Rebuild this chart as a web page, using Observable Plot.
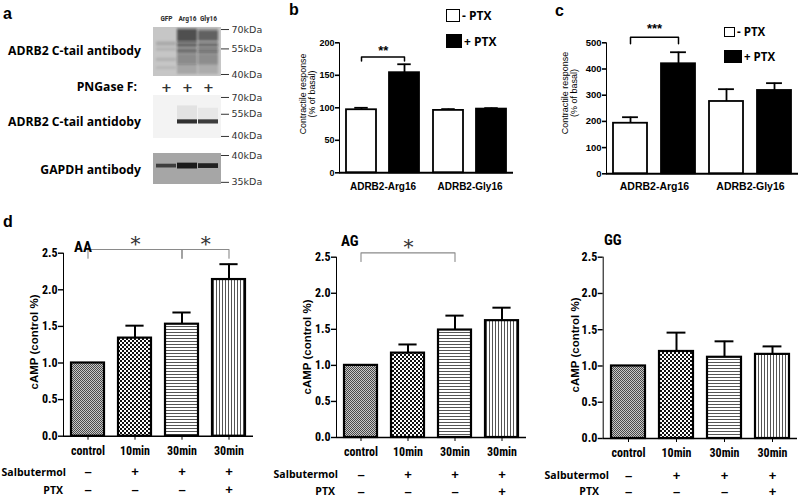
<!DOCTYPE html>
<html>
<head>
<meta charset="utf-8">
<script src="https://cdn.jsdelivr.net/npm/d3@7"></script>
<script src="https://cdn.jsdelivr.net/npm/@observablehq/plot@0.6"></script>
<style>
  body { margin: 0; background: #fff; }
  #root { position: relative; width: 800px; height: 498px; overflow: hidden; background: #fff;
          font-family: "Open Sans", "Liberation Sans", Arial, sans-serif; color: #000; }
  .abs { position: absolute; white-space: pre; line-height: 1; }
  .chart { position: absolute; overflow: visible; }
  .sw { position: absolute; box-sizing: border-box; border: 1.5px solid #000; }
</style>
</head>
<body>
<svg width="0" height="0" style="position:absolute">
  <defs>
    <filter id="blot-blur" x="-20%" y="-20%" width="140%" height="140%">
      <feGaussianBlur stdDeviation="1.1"/>
    </filter>
    <filter id="blot-blur-soft" x="-20%" y="-20%" width="140%" height="140%">
      <feGaussianBlur stdDeviation="0.7"/>
    </filter>
    <pattern id="pat-control" width="2" height="2" patternUnits="userSpaceOnUse">
      <rect width="2" height="2" fill="#c8c8c8"/>
      <rect width="1" height="1" fill="#4a4a4a"/>
      <rect x="1" y="1" width="1" height="1" fill="#4a4a4a"/>
    </pattern>
    <pattern id="pat-checker" width="4" height="4" patternUnits="userSpaceOnUse">
      <rect width="4" height="4" fill="#fff"/>
      <rect width="2" height="2" fill="#111"/>
      <rect x="2" y="2" width="2" height="2" fill="#111"/>
    </pattern>
    <pattern id="pat-hlines" width="4" height="3" patternUnits="userSpaceOnUse">
      <rect width="4" height="3" fill="#fff"/>
      <rect width="4" height="1" fill="#555"/>
    </pattern>
    <pattern id="pat-vlines" width="3" height="4" patternUnits="userSpaceOnUse">
      <rect width="3" height="4" fill="#fff"/>
      <rect width="1" height="4" fill="#555"/>
    </pattern>
  </defs>
</svg>
<div id="root"></div>
<script>
// ---------------- DATA ----------------
// Panel a: western blot
const lanes = ["GFP", "Arg16", "Gly16"];
const pngaseF = ["+", "+", "+"];
const blot1Markers = [70, 55, 40];
const blot2Markers = [70, 55, 40];
const blot3Markers = [40, 35];
const blot1Bands = [
  {lane: "GFP", hi: 60, lo: 57, a: 0.14},
  {lane: "GFP", hi: 55.5, lo: 53.5, a: 0.1},
  {lane: "GFP", hi: 49, lo: 47, a: 0.1},
  {lane: "GFP", hi: 44, lo: 42.5, a: 0.08},
  {lane: "Arg16", hi: 71, lo: 40, a: 0.16},
  {lane: "Arg16", hi: 70, lo: 60, a: 0.6},
  {lane: "Arg16", hi: 59, lo: 56, a: 0.45},
  {lane: "Arg16", hi: 55, lo: 52, a: 0.4},
  {lane: "Arg16", hi: 51.5, lo: 45, a: 0.22},
  {lane: "Gly16", hi: 71, lo: 40, a: 0.13},
  {lane: "Gly16", hi: 69, lo: 60.5, a: 0.5},
  {lane: "Gly16", hi: 59, lo: 56, a: 0.42},
  {lane: "Gly16", hi: 55, lo: 52, a: 0.38},
  {lane: "Gly16", hi: 51.5, lo: 45, a: 0.18}
];
const blot2Bands = [
  {lane: "Arg16", hi: 62, lo: 51, a: 0.07},
  {lane: "Gly16", hi: 60, lo: 51, a: 0.05},
  {lane: "Arg16", hi: 50.8, lo: 47.8, a: 0.85},
  {lane: "Gly16", hi: 50.8, lo: 47.8, a: 0.8}
];
const blot3Bands = [
  {lane: "GFP", hi: 38.3, lo: 37.6, a: 0.7},
  {lane: "Arg16", hi: 38.5, lo: 37.4, a: 0.92},
  {lane: "Gly16", hi: 38.4, lo: 37.5, a: 0.88}
];

// Panels b, c: contractile response
const groupsBC = ["ADRB2-Arg16", "ADRB2-Gly16"];
const ptxLevels = ["- PTX", "+ PTX"];
const bMean = [97, 154, 96, 98];      // Arg16 -PTX, Arg16 +PTX, Gly16 -PTX, Gly16 +PTX
const bSem = [3, 13, 2, 1.5];
const cMean = [193, 420, 276, 318];
const cSem = [23, 44, 47, 28];
const bSig = [{group: "ADRB2-Arg16", from: "- PTX", to: "+ PTX", y: 178, low: 172, label: "**"}];
const cSig = [{group: "ADRB2-Arg16", from: "- PTX", to: "+ PTX", y: 521, low: 496, label: "***"}];

// Panel d: cAMP
const dConditions = ["control", "10min", "30min", "30min+PTX"];
const dTickLabels = ["control", "10min", "30min", "30min"];
const salbutermolRow = ["–", "+", "+", "+"];
const ptxRow = ["–", "–", "–", "+"];
const aaMean = [1.0, 1.34, 1.53, 2.14];
const aaSem = [0, 0.17, 0.16, 0.21];
const agMean = [1.0, 1.17, 1.49, 1.62];
const agSem = [0, 0.12, 0.20, 0.18];
const ggMean = [1.0, 1.20, 1.12, 1.16];
const ggSem = [0, 0.26, 0.22, 0.11];
const aaSig = [
  {from: "control", to: "30min", y: 2.55, low: 2.43, label: "*"},
  {from: "30min", to: "30min+PTX", y: 2.55, low: 2.43, label: "*"}
];
const agSig = [{from: "control", to: "30min", y: 2.56, low: 2.44, label: "*"}];
const ggSig = [];

// ---------------- HELPERS ----------------
const root = document.getElementById("root");
const NARROW = '"Liberation Sans Narrow", "Arial Narrow", "Roboto Condensed", "Liberation Sans", Arial, sans-serif';
const SANS = '"Liberation Sans", Arial, sans-serif';

function text(str, x, y, {anchor = "start", size = 11, weight = 700, family = null, color = "#000", rotate = false, lh = 1, align = "center"} = {}) {
  const d = document.createElement("div");
  d.className = "abs";
  d.textContent = str;
  d.style.left = x + "px";
  d.style.top = y + "px";
  d.style.fontSize = size + "px";
  d.style.fontWeight = weight;
  d.style.color = color;
  d.style.lineHeight = lh;
  d.style.textAlign = align;
  if (family) d.style.fontFamily = family;
  const tx = anchor === "start" ? "0" : anchor === "middle" ? "-50%" : "-100%";
  d.style.transform = `translate(${tx},-50%)` + (rotate ? " rotate(-90deg)" : "");
  root.appendChild(d);
  return d;
}
function swatch(x, y, w, h, fill) {
  const d = document.createElement("div");
  d.className = "sw";
  d.style.left = x + "px"; d.style.top = y + "px";
  d.style.width = w + "px"; d.style.height = h + "px";
  d.style.background = fill;
  root.appendChild(d);
}
function put(svg, left, top) {
  svg.classList.add("chart");
  svg.style.left = left + "px";
  svg.style.top = top + "px";
  root.appendChild(svg);
  return svg;
}

// ---------------- PANEL a ----------------
function blot({bands, markers, domain, bg, left, top, width, height, mt, mb, ml, mr, laneLabels = false, plus = null, filter = "blot-blur"}) {
  const marks = [
    Plot.frame({fill: bg, stroke: bg}),
    Plot.barY(bands, {x: "lane", y1: "lo", y2: "hi", fill: "#111", fillOpacity: "a"})
  ];
  if (laneLabels) marks.push(Plot.text(lanes, {x: d => d, frameAnchor: "top", lineAnchor: "middle", dy: -9, text: d => d, fontSize: 7.5, fontWeight: "bold", fontFamily: NARROW}));
  if (plus) marks.push(Plot.text(lanes.map((l, i) => ({lane: l, s: plus[i]})), {x: "lane", frameAnchor: "top", lineAnchor: "middle", dy: -8, text: "s", fontSize: 13, fontWeight: "bold"}));
  const svg = Plot.plot({
    width, height, marginTop: mt, marginBottom: mb, marginLeft: ml, marginRight: mr,
    style: {fontFamily: '"DejaVu Sans", sans-serif', fontSize: "9.5px", color: "#333", background: "transparent", overflow: "visible"},
    x: {domain: lanes, padding: 0.06, axis: null},
    y: {type: "log", domain, axis: "right", ticks: markers, tickFormat: d => d + "kDa", tickSize: 8, tickPadding: 3, label: null},
    opacity: {type: "identity"},
    marks
  });
  // soften the bands so they look like a scanned film
  d3.select(svg).selectAll('g[aria-label="bar"]').attr("filter", `url(#${filter})`);
  return put(svg, left, top);
}

blot({bands: blot1Bands, markers: blot1Markers, domain: [39.5, 71.8], bg: "#c6c6c6", filter: "blot-blur",
      left: 150, top: 0, width: 118, height: 80, mt: 27, mb: 5, ml: 3, mr: 48, laneLabels: true});
blot({bands: blot2Bands, markers: blot2Markers, domain: [39.4, 72], bg: "#f3f3f3", filter: "blot-blur-soft",
      left: 150, top: 78, width: 118, height: 62, mt: 17, mb: 3, ml: 3, mr: 48, plus: pngaseF});
blot({bands: blot3Bands, markers: blot3Markers, domain: [34.8, 40.4], bg: "#a6a6a6", filter: "blot-blur-soft",
      left: 150, top: 145, width: 118, height: 42, mt: 8, mb: 4, ml: 3, mr: 48});

text("a", 3, 14, {size: 16, weight: 700, family: SANS});
text("ADRB2 C-tail antibody", 141, 51, {anchor: "end", size: 12.2});
text("PNGase F:", 137, 87, {anchor: "end", size: 12.2});
text("ADRB2 C-tail antidoby", 141, 122, {anchor: "end", size: 12.2});
text("GAPDH antibody", 141, 170, {anchor: "end", size: 12.2});

// ---------------- PANELS b, c ----------------
function contractile({mean, sem, sig, yMax, left, top, width, height, ml, mr, mt, mb, fontSize, fxPad, starSize, starDy}) {
  const rows = [];
  groupsBC.forEach((g, gi) => ptxLevels.forEach((p, pi) => {
    const k = gi * ptxLevels.length + pi;
    rows.push({group: g, ptx: p, mean: mean[k], sem: sem[k]});
  }));
  const facetW = (width - ml - mr) / groupsBC.length;
  const step = facetW / (ptxLevels.length - 0.3 + 0.3);
  const bw = step * 0.7;
  const errs = rows.filter(d => d.sem > 0);
  const brackets = sig.flatMap((s, k) => [
    {k, group: s.group, x: s.from, y: s.low}, {k, group: s.group, x: s.from, y: s.y},
    {k, group: s.group, x: s.to, y: s.y}, {k, group: s.group, x: s.to, y: s.low}
  ]);
  const svg = Plot.plot({
    width, height, marginLeft: ml, marginRight: mr, marginTop: mt, marginBottom: mb,
    style: {fontFamily: SANS, fontSize: fontSize + "px", fontWeight: "bold", color: "#000", background: "transparent", overflow: "visible"},
    fx: {domain: groupsBC, padding: 0, axis: "bottom", tickSize: 0, tickPadding: fxPad, label: null},
    x: {domain: ptxLevels, paddingInner: 0.3, paddingOuter: 0.15, axis: null},
    y: {domain: [0, yMax], ticks: 5, tickSize: 4, tickPadding: 1, line: true, label: null},
    color: {domain: ptxLevels, range: ["white", "black"]},
    marks: [
      Plot.barY(rows, {fx: "group", x: "ptx", y: "mean", fill: "ptx", stroke: "black", strokeWidth: 1.8}),
      Plot.ruleX(errs, {fx: "group", x: "ptx", y1: "mean", y2: d => d.mean + d.sem, strokeWidth: 1.8}),
      Plot.tickY(errs, {fx: "group", x: "ptx", y: d => d.mean + d.sem, strokeWidth: 1.8, insetLeft: bw * 0.27, insetRight: bw * 0.27}),
      Plot.line(brackets, {fx: "group", x: "x", y: "y", z: "k", strokeWidth: 1.5}),
      Plot.text(sig, {fx: "group", x: "from", y: "y", text: "label", dx: step / 2, dy: starDy, fontSize: starSize, fontWeight: "bold"}),
      Plot.ruleY([0], {strokeWidth: 2})
    ]
  });
  d3.select(svg).selectAll('[aria-label^="y-axis"]').attr("stroke-width", 1.6);
  d3.select(svg).selectAll('[aria-label^="fx-axis"]').attr("font-size", fontSize + 1);
  return put(svg, left, top);
}

contractile({mean: bMean, sem: bSem, sig: bSig, yMax: 200, left: 270, top: 0, width: 250, height: 200,
             ml: 68, mr: 7, mt: 42.3, mb: 27.7, fontSize: 9, fxPad: 10, starSize: 13, starDy: -6});
contractile({mean: cMean, sem: cSem, sig: cSig, yMax: 500, left: 530, top: 0, width: 270, height: 200,
             ml: 76, mr: 2, mt: 42.3, mb: 26.7, fontSize: 9.5, fxPad: 9, starSize: 13, starDy: -8});

text("b", 289, 10, {size: 16, weight: 700, family: SANS});
text("c", 555, 11, {size: 16, weight: 700, family: SANS});
text("Contractile response\n(% of basal)", 308, 94, {anchor: "middle", rotate: true, size: 8.8, weight: 400, family: SANS, lh: 0.98});
text("Contractile response\n(% of basal)", 570, 93, {anchor: "middle", rotate: true, size: 9, weight: 400, family: SANS, lh: 0.98});

// legends b
swatch(446, 9, 14, 13, "white");
text("- PTX", 462, 16, {size: 12});
swatch(446, 34, 16, 14, "black");
text("+ PTX", 464, 42, {size: 12});
// legends c
swatch(724, 27, 11, 10, "white");
text("- PTX", 737, 32, {size: 11.5});
swatch(724, 50, 18, 13, "black");
text("+ PTX", 744, 57, {size: 11.5});

// ---------------- PANEL d ----------------
const tickLabelMap = new Map(dConditions.map((c, i) => [c, dTickLabels[i]]));
const patternFill = {"control": "url(#pat-control)", "10min": "url(#pat-checker)", "30min": "url(#pat-hlines)", "30min+PTX": "url(#pat-vlines)"};

function camp({mean, sem, sig, left, width, ml, mr, mt, mb, rowDy}) {
  const height = 298;
  const rows = dConditions.map((c, i) => ({cond: c, mean: mean[i], sem: sem[i], sal: salbutermolRow[i], ptx: ptxRow[i]}));
  const n = dConditions.length;
  const pi = 0.29, po = 0.15;
  const step = (width - ml - mr) / (n - pi + 2 * po);
  const bw = step * (1 - pi);
  const idx = c => dConditions.indexOf(c);
  const errs = rows.filter(d => d.sem > 0);
  const brackets = sig.flatMap((s, k) => [
    {k, x: s.from, y: s.low}, {k, x: s.from, y: s.y}, {k, x: s.to, y: s.y}, {k, x: s.to, y: s.low}
  ]);
  const svg = Plot.plot({
    width, height, marginLeft: ml, marginRight: mr, marginTop: mt, marginBottom: mb,
    style: {fontFamily: NARROW, fontSize: "12px", fontWeight: "bold", color: "#000", background: "transparent", overflow: "visible"},
    x: {domain: dConditions, paddingInner: pi, paddingOuter: po, tickFormat: c => tickLabelMap.get(c), tickSize: 4, tickPadding: 6, label: null},
    y: {domain: [0, 2.5], ticks: 5, tickFormat: ".1f", tickSize: 5, tickPadding: 1, line: true, label: null},
    marks: [
      ...dConditions.map(c => Plot.barY(rows.filter(d => d.cond === c), {x: "cond", y: "mean", fill: patternFill[c], stroke: "black", strokeWidth: 2.2})),
      Plot.ruleX(errs, {x: "cond", y1: "mean", y2: d => d.mean + d.sem, strokeWidth: 2}),
      Plot.tickY(errs, {x: "cond", y: d => d.mean + d.sem, strokeWidth: 2, insetLeft: bw * 0.22, insetRight: bw * 0.22}),
      Plot.line(brackets, {x: "x", y: "y", z: "k", stroke: "#8a8a8a", strokeWidth: 1.1}),
      ...sig.map(s => Plot.text([s], {x: "from", y: "y", text: "label", dx: (idx(s.to) - idx(s.from)) * step / 2, dy: -5,
                                     fontSize: 20, fontWeight: "normal", fontFamily: '"DejaVu Serif", serif', fill: "#333"})),
      Plot.ruleY([0], {strokeWidth: 1.6}),
      Plot.text(rows, {x: "cond", text: "sal", frameAnchor: "bottom", lineAnchor: "middle", dy: rowDy[0], fontSize: 13, fontFamily: SANS}),
      Plot.text(rows, {x: "cond", text: "ptx", frameAnchor: "bottom", lineAnchor: "middle", dy: rowDy[1], fontSize: 13, fontFamily: SANS})
    ]
  });
  d3.select(svg).selectAll('[aria-label^="y-axis"]').attr("stroke-width", 1.4);
  return put(svg, left, 200);
}

camp({mean: aaMean, sem: aaSem, sig: aaSig, left: 0, width: 260, ml: 63, mr: 7, mt: 52.7, mb: 62.3, rowDy: [36, 54]});
camp({mean: agMean, sem: agSem, sig: agSig, left: 270, width: 260, ml: 66, mr: 4, mt: 56.7, mb: 61, rowDy: [37, 54.5]});
camp({mean: ggMean, sem: ggSem, sig: ggSig, left: 530, width: 270, ml: 72.7, mr: 3, mt: 56.7, mb: 60, rowDy: [37, 53.5]});

text("d", 3, 222, {size: 16, weight: 700, family: SANS});
text("AA", 74, 247, {size: 15, family: NARROW});
text("AG", 341, 241, {size: 15, family: NARROW});
text("GG", 604, 240, {size: 15, family: NARROW});
text("cAMP (control %)", 35, 342, {anchor: "middle", rotate: true, size: 11.5, family: SANS});
text("cAMP (control %)", 308, 347, {anchor: "middle", rotate: true, size: 11.5, family: SANS});
text("cAMP (control %)", 576, 345, {anchor: "middle", rotate: true, size: 11.5, family: SANS});
text("Salbutermol", 66, 472, {anchor: "end", size: 10.5});
text("PTX", 63, 490, {anchor: "end", size: 10.5});
text("Salbutermol", 338, 474, {anchor: "end", size: 10.5});
text("PTX", 335, 490.5, {anchor: "end", size: 10.5});
text("Salbutermol", 609, 475, {anchor: "end", size: 10.5});
text("PTX", 599, 490.5, {anchor: "end", size: 10.5});
</script>
</body>
</html>
